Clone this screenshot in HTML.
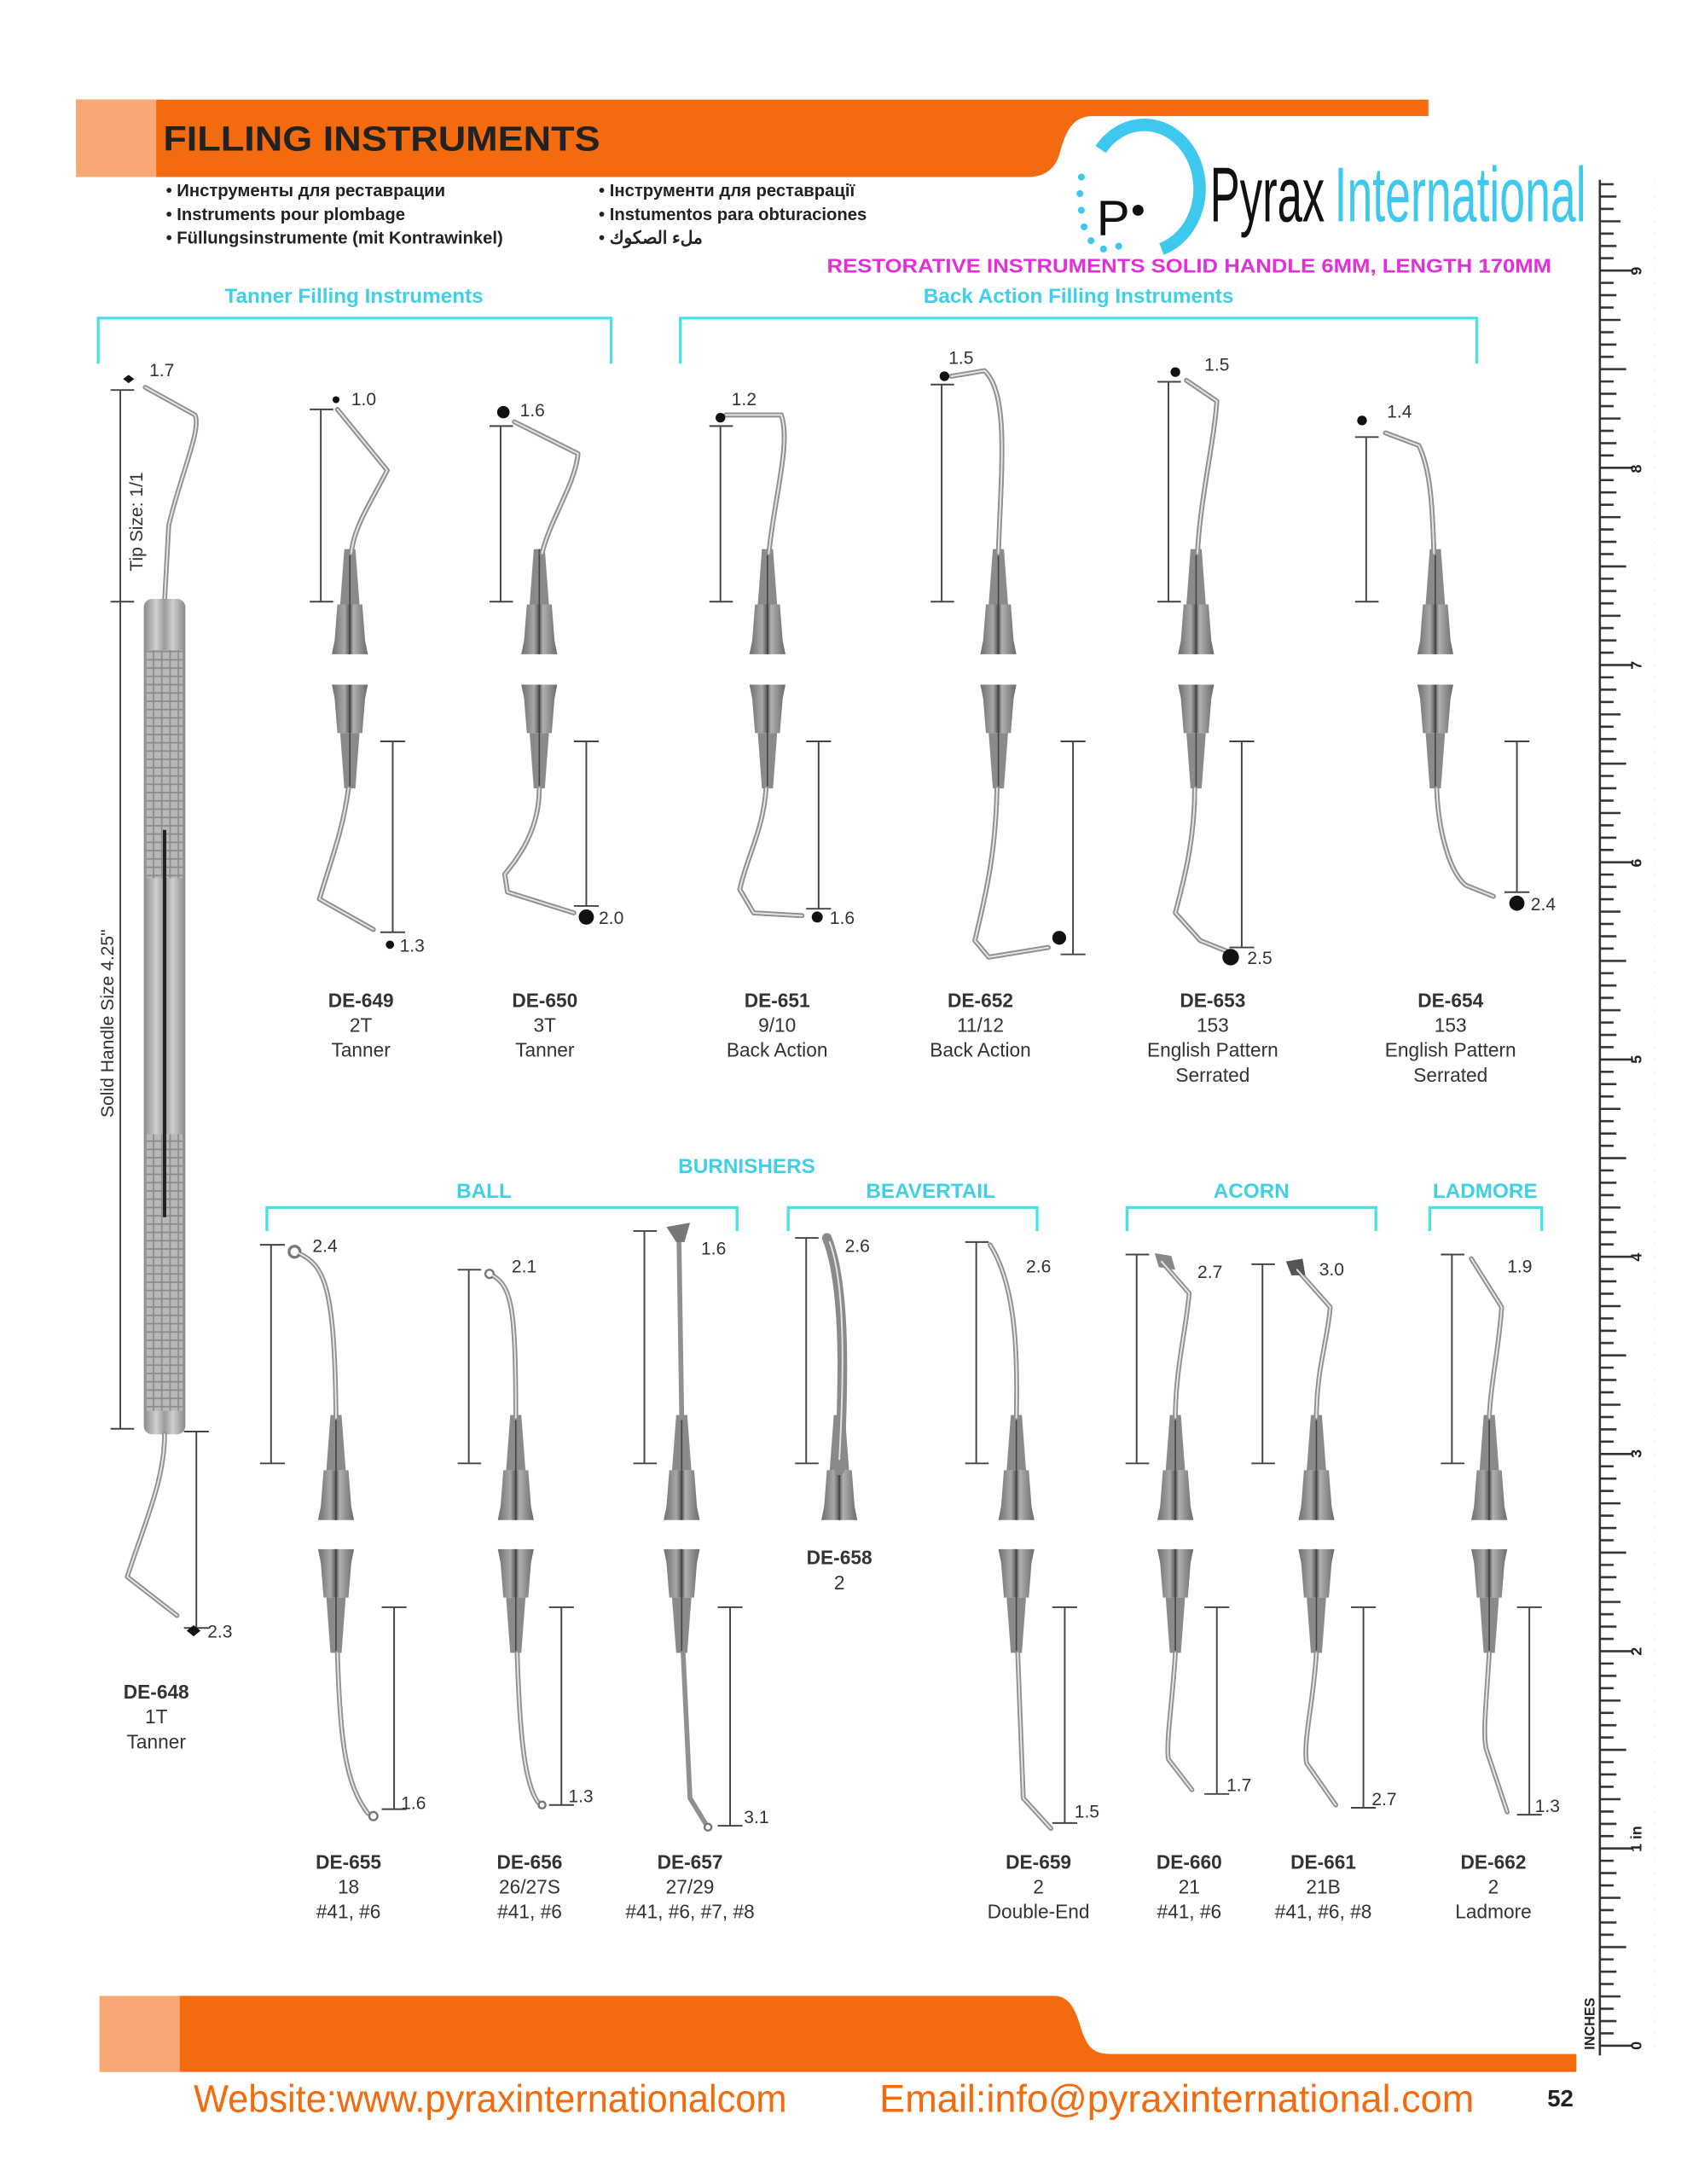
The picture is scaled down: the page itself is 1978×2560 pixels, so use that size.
<!DOCTYPE html>
<html><head><meta charset="utf-8"><style>
html,body{margin:0;padding:0;background:#fff}
svg{display:block}
text{font-family:"Liberation Sans",sans-serif}
.lb{font-size:14px;fill:#333;text-anchor:middle}
.lbb{font-size:14px;fill:#333;text-anchor:middle;font-weight:bold}
.nm{font-size:13px;fill:#333}
.dim{stroke:#444;stroke-width:1.2;fill:none}
.sh{stroke:#909090;stroke-width:3.5;fill:none;stroke-linecap:round;stroke-linejoin:round}
.hl{stroke:#e4e4e4;stroke-width:1.2;fill:none;stroke-linecap:round;stroke-linejoin:round}
.cy{fill:#3fd0e6;font-weight:bold;font-size:15px;text-anchor:middle}
.br{stroke:#46e0e6;stroke-width:2;fill:none}
</style></head><body>
<svg width="1978" height="2560" viewBox="0 0 1220 1579" xmlns="http://www.w3.org/2000/svg">
<defs>
<linearGradient id="cg" x1="0" x2="1" y1="0" y2="0">
<stop offset="0" stop-color="#6e6e6e"/><stop offset="0.35" stop-color="#a8a8a8"/><stop offset="0.5" stop-color="#555"/><stop offset="0.6" stop-color="#b0b0b0"/><stop offset="1" stop-color="#6a6a6a"/></linearGradient>
<linearGradient id="hg" x1="0" x2="1" y1="0" y2="0">
<stop offset="0" stop-color="#8a8a8a"/><stop offset="0.3" stop-color="#d0d0d0"/><stop offset="0.5" stop-color="#9a9a9a"/><stop offset="0.7" stop-color="#cfcfcf"/><stop offset="1" stop-color="#888"/></linearGradient>
<pattern id="kn" patternUnits="userSpaceOnUse" width="6" height="6"><rect width="6" height="6" fill="#b8b8b8"/><path d="M0,3 H6 M3,0 V6" stroke="#8a8a8a" stroke-width="1"/></pattern>
<g id="uc"><polygon points="-9,0 9,0 11,26 13,36 -13,36 -11,26" fill="url(#cg)"/><polygon points="-4,-40 4,-40 7,0 -7,0" fill="#8a8a8a"/><line x1="0" y1="-40" x2="0" y2="36" stroke="#444" stroke-width="1"/></g>
<g id="lc"><polygon points="-13,0 13,0 11,10 9,35 -9,35 -11,10" fill="url(#cg)"/><polygon points="-7,35 7,35 4,75 -4,75" fill="#8a8a8a"/><line x1="0" y1="0" x2="0" y2="75" stroke="#444" stroke-width="1"/></g>
<pattern id="tk" patternUnits="userSpaceOnUse" x="1157" y="52.2" width="40" height="142.6">
<g stroke="#333" stroke-width="1.6">
<line x1="0" y1="0.8" x2="24" y2="0.8"/><line x1="0" y1="9.7" x2="10" y2="9.7"/><line x1="0" y1="18.6" x2="12" y2="18.6"/><line x1="0" y1="27.5" x2="10" y2="27.5"/><line x1="0" y1="36.5" x2="15" y2="36.5"/><line x1="0" y1="45.4" x2="10" y2="45.4"/><line x1="0" y1="54.3" x2="12" y2="54.3"/><line x1="0" y1="63.2" x2="10" y2="63.2"/><line x1="0" y1="72.1" x2="19" y2="72.1"/><line x1="0" y1="81" x2="10" y2="81"/><line x1="0" y1="89.9" x2="12" y2="89.9"/><line x1="0" y1="98.8" x2="10" y2="98.8"/><line x1="0" y1="107.8" x2="15" y2="107.8"/><line x1="0" y1="116.7" x2="10" y2="116.7"/><line x1="0" y1="125.6" x2="12" y2="125.6"/><line x1="0" y1="134.5" x2="10" y2="134.5"/>
</g></pattern>
</defs>

<path d="M55,72 H1033 V84 H790 C774,84 770,98 766,112 C762,124 754,128 742,128 H62 Q55,128 55,118 Z" fill="#f46b0f"/>
<rect x="55" y="72" width="58" height="56" fill="#f8a874"/>
<text x="118" y="109" font-size="25" font-weight="bold" fill="#222" textLength="316" lengthAdjust="spacingAndGlyphs">FILLING INSTRUMENTS</text>
<g font-size="12.5" font-weight="bold" fill="#222">
<text x="120" y="142">• Инструменты для реставрации</text>
<text x="120" y="159">• Instruments pour plombage</text>
<text x="120" y="176">• Füllungsinstrumente (mit Kontrawinkel)</text>
<text x="433" y="142">• Інструменти для реставрації</text>
<text x="433" y="159">• Instumentos para obturaciones</text>
<text x="433" y="176">• ملء الصكوك</text>
</g>
<path d="M796,108 A40,46 0 1 1 840,180" stroke="#3ec8ee" stroke-width="9" fill="none"/>
<g fill="#3ec8ee"><circle cx="782" cy="128" r="2.5"/><circle cx="781" cy="140" r="2.5"/><circle cx="782" cy="152" r="2.5"/><circle cx="784" cy="164" r="2.5"/><circle cx="789" cy="174" r="2.5"/><circle cx="798" cy="180" r="2.5"/><circle cx="809" cy="178" r="2.5"/></g>
<text x="793" y="170" font-size="36" fill="#111">P</text><circle cx="823" cy="152" r="4" fill="#111"/>
<text x="875" y="160" font-size="56" fill="#111" font-family="'Liberation Sans Narrow','Liberation Sans',sans-serif" textLength="83" lengthAdjust="spacingAndGlyphs">Pyrax</text>
<text x="965" y="160" font-size="56" fill="#3ec8ee" font-family="'Liberation Sans Narrow','Liberation Sans',sans-serif" textLength="182" lengthAdjust="spacingAndGlyphs">International</text>
<text x="598" y="197" font-size="14.5" font-weight="bold" fill="#e32fd8" textLength="524" lengthAdjust="spacingAndGlyphs">RESTORATIVE INSTRUMENTS SOLID HANDLE 6MM, LENGTH 170MM</text>

<rect x="1157" y="130" width="40" height="1356" fill="url(#tk)"/>
<line x1="1157" y1="130" x2="1157" y2="1486" stroke="#333" stroke-width="1.6"/>
<g font-size="11" fill="#222" font-weight="bold">
<text transform="translate(1187,199) rotate(-90)">9</text><text transform="translate(1187,342) rotate(-90)">8</text><text transform="translate(1187,484) rotate(-90)">7</text><text transform="translate(1187,627) rotate(-90)">6</text><text transform="translate(1187,769) rotate(-90)">5</text><text transform="translate(1187,912) rotate(-90)">4</text><text transform="translate(1187,1054) rotate(-90)">3</text><text transform="translate(1187,1197) rotate(-90)">2</text><text transform="translate(1187,1339) rotate(-90)">1 in</text><text transform="translate(1187,1482) rotate(-90)">0</text>
<text transform="translate(1153,1482) rotate(-90)" font-size="10">INCHES</text></g>

<text x="256" y="219" class="cy" font-size="14">Tanner Filling Instruments</text>
<path d="M71,263 V230 H442 V263" class="br"/>
<text x="780" y="219" class="cy" font-size="14">Back Action Filling Instruments</text>
<path d="M492,263 V230 H1068 V263" class="br"/>

<path d="M105,280 L141,300 C146,310 130,345 122,380 L119,435" class="sh"/><path d="M105,280 L141,300 C146,310 130,345 122,380 L119,435" class="hl"/>
<rect x="104" y="433" width="30" height="604" rx="6" fill="url(#hg)"/>
<rect x="106" y="470" width="26" height="165" fill="url(#kn)"/><rect x="106" y="820" width="26" height="200" fill="url(#kn)"/>
<line x1="119" y1="600" x2="119" y2="880" stroke="#222" stroke-width="2.5"/>
<path d="M119,1037 C119,1070 105,1100 92,1140 L128,1168" class="sh"/><path d="M119,1037 C119,1070 105,1100 92,1140 L128,1168" class="hl"/>
<path d="M87,282 V1033 M80,282 H97 M80,435 H97 M80,1033 H97" class="dim"/>
<path d="M142,1035 V1177 M133,1035 H151 M133,1177 H151" class="dim"/>
<polygon points="89,274 93,271 97,274 93,277" fill="#111"/><text x="108" y="272" class="nm">1.7</text>
<polygon points="135,1179 140,1175 145,1179 140,1183" fill="#111"/><text x="150" y="1184" class="nm">2.3</text>
<text class="nm" font-size="11" transform="translate(103,413) rotate(-90)">Tip Size: 1/1</text>
<text class="nm" font-size="11" transform="translate(82,808) rotate(-90)">Solid Handle Size 4.25"</text>
<text x="113" y="1228" class="lbb">DE-648</text><text x="113" y="1246" class="lb">1T</text><text x="113" y="1264" class="lb">Tanner</text>

<use href="#uc" x="253" y="437"/><use href="#uc" x="390" y="437"/><use href="#uc" x="555" y="437"/><use href="#uc" x="722" y="437"/><use href="#uc" x="865" y="437"/><use href="#uc" x="1038" y="437"/>
<use href="#lc" x="253" y="495"/><use href="#lc" x="390" y="495"/><use href="#lc" x="555" y="495"/><use href="#lc" x="722" y="495"/><use href="#lc" x="865" y="495"/><use href="#lc" x="1038" y="495"/>
<g id="r1">
<path d="M244,296 L280,340 C270,360 256,380 254,400" class="sh"/>
<path d="M252,570 C248,600 240,620 231,650 L270,672" class="sh"/>
<path d="M372,305 L418,328 C416,350 398,375 392,400" class="sh"/>
<path d="M390,570 C390,600 375,620 365,632 L367,645 L415,660" class="sh"/>
<path d="M525,300 L565,300 C572,320 560,360 556,400" class="sh"/>
<path d="M554,570 C552,600 540,620 535,643 L545,660 L580,662" class="sh"/>
<path d="M688,272 L712,268 C730,285 724,340 722,400" class="sh"/>
<path d="M721,570 C720,620 712,650 705,680 L715,692 L758,685" class="sh"/>
<path d="M858,275 L880,290 C878,320 868,360 866,400" class="sh"/>
<path d="M864,570 C864,610 855,640 850,660 L868,680 L888,688" class="sh"/>
<path d="M1002,313 L1026,322 C1035,340 1036,370 1037,400" class="sh"/>
<path d="M1039,570 C1040,600 1048,630 1060,640 L1080,648" class="sh"/>
</g>
<use href="#r1" style="stroke:#e6e6e6"/>
<g class="hl">
<path d="M244,296 L280,340 C270,360 256,380 254,400"/><path d="M252,570 C248,600 240,620 231,650 L270,672"/><path d="M372,305 L418,328 C416,350 398,375 392,400"/><path d="M390,570 C390,600 375,620 365,632 L367,645 L415,660"/><path d="M525,300 L565,300 C572,320 560,360 556,400"/><path d="M554,570 C552,600 540,620 535,643 L545,660 L580,662"/><path d="M688,272 L712,268 C730,285 724,340 722,400"/><path d="M721,570 C720,620 712,650 705,680 L715,692 L758,685"/><path d="M858,275 L880,290 C878,320 868,360 866,400"/><path d="M864,570 C864,610 855,640 850,660 L868,680 L888,688"/><path d="M1002,313 L1026,322 C1035,340 1036,370 1037,400"/><path d="M1039,570 C1040,600 1048,630 1060,640 L1080,648"/>
</g>
<g class="dim">
<path d="M232,296 V435 M224,296 H241 M224,435 H241 M284,536 V674 M275,536 H293 M275,674 H293"/>
<path d="M362,308 V435 M354,308 H371 M354,435 H371 M424,536 V655 M415,536 H433 M415,655 H433"/>
<path d="M521,308 V435 M513,308 H530 M513,435 H530 M592,536 V657 M583,536 H601 M583,657 H601"/>
<path d="M681,278 V435 M673,278 H690 M673,435 H690 M776,536 V690 M767,536 H785 M767,690 H785"/>
<path d="M845,276 V435 M837,276 H854 M837,435 H854 M898,536 V685 M889,536 H907 M889,685 H907"/>
<path d="M988,316 V435 M980,316 H997 M980,435 H997 M1097,536 V645 M1088,536 H1106 M1088,645 H1106"/>
</g>
<g fill="#111"><circle cx="243" cy="289" r="2.5"/><circle cx="282" cy="683" r="3"/><circle cx="364" cy="298" r="4.5"/><circle cx="424" cy="663" r="5.5"/><circle cx="521" cy="302" r="3.5"/><circle cx="591" cy="663" r="4"/><circle cx="683" cy="272" r="3.5"/><circle cx="766" cy="678" r="5"/><circle cx="850" cy="269" r="3.5"/><circle cx="890" cy="692" r="6"/><circle cx="985" cy="304" r="3.5"/><circle cx="1097" cy="653" r="5.5"/></g>
<g class="nm" font-size="13.5"><text x="254" y="293">1.0</text><text x="289" y="688">1.3</text><text x="376" y="301">1.6</text><text x="433" y="668">2.0</text><text x="529" y="293">1.2</text><text x="600" y="668">1.6</text><text x="686" y="263">1.5</text><text x="871" y="268">1.5</text><text x="902" y="697">2.5</text><text x="1003" y="302">1.4</text><text x="1107" y="658">2.4</text></g>
<g><text x="261" y="728" class="lbb">DE-649</text><text x="261" y="746" class="lb">2T</text><text x="261" y="764" class="lb">Tanner</text>
<text x="394" y="728" class="lbb">DE-650</text><text x="394" y="746" class="lb">3T</text><text x="394" y="764" class="lb">Tanner</text>
<text x="562" y="728" class="lbb">DE-651</text><text x="562" y="746" class="lb">9/10</text><text x="562" y="764" class="lb">Back Action</text>
<text x="709" y="728" class="lbb">DE-652</text><text x="709" y="746" class="lb">11/12</text><text x="709" y="764" class="lb">Back Action</text>
<text x="877" y="728" class="lbb">DE-653</text><text x="877" y="746" class="lb">153</text><text x="877" y="764" class="lb">English Pattern</text><text x="877" y="782" class="lb">Serrated</text>
<text x="1049" y="728" class="lbb">DE-654</text><text x="1049" y="746" class="lb">153</text><text x="1049" y="764" class="lb">English Pattern</text><text x="1049" y="782" class="lb">Serrated</text></g>

<text x="540" y="848" class="cy" font-size="15.5">BURNISHERS</text>
<text x="350" y="866" class="cy" font-size="14">BALL</text><path d="M193,890 V873 H533 V890" class="br"/>
<text x="673" y="866" class="cy" font-size="14">BEAVERTAIL</text><path d="M570,890 V873 H750 V890" class="br"/>
<text x="905" y="866" class="cy" font-size="14">ACORN</text><path d="M815,890 V873 H995 V890" class="br"/>
<text x="1074" y="866" class="cy" font-size="14">LADMORE</text><path d="M1034,890 V873 H1115 V890" class="br"/>

<use href="#uc" x="243" y="1063"/><use href="#uc" x="373" y="1063"/><use href="#uc" x="493" y="1063"/><use href="#uc" x="607" y="1063"/><use href="#uc" x="735" y="1063"/><use href="#uc" x="850" y="1063"/><use href="#uc" x="952" y="1063"/><use href="#uc" x="1077" y="1063"/>
<use href="#lc" x="243" y="1120"/><use href="#lc" x="373" y="1120"/><use href="#lc" x="493" y="1120"/><use href="#lc" x="735" y="1120"/><use href="#lc" x="850" y="1120"/><use href="#lc" x="952" y="1120"/><use href="#lc" x="1077" y="1120"/>
<g>
<path d="M216,906 C235,915 242,930 243,1025" class="sh"/><circle cx="213" cy="905" r="4" fill="#fff" stroke="#777" stroke-width="2"/>
<path d="M244,1195 C246,1260 250,1290 266,1311" class="sh"/><circle cx="270" cy="1313" r="3" fill="#fff" stroke="#777" stroke-width="1.5"/>
<path d="M356,922 C370,930 373,945 373,1025" class="sh"/><circle cx="354" cy="921" r="3" fill="#fff" stroke="#777" stroke-width="1.5"/>
<path d="M374,1195 C376,1260 380,1290 389,1303" class="sh"/><circle cx="392" cy="1305" r="2.5" fill="#fff" stroke="#777" stroke-width="1.5"/>
<path d="M491,895 L493,1025" class="sh"/><polygon points="482,887 499,884 495,898 489,898" fill="#777"/>
<path d="M494,1195 L499,1300 L510,1318" class="sh"/><circle cx="512" cy="1321" r="2.5" fill="#fff" stroke="#777" stroke-width="1.5"/>
<path d="M598,895 C612,930 610,1000 607,1063" stroke="#8a8a8a" stroke-width="7" fill="none" stroke-linecap="round"/>
<path d="M716,900 C735,930 736,980 735,1025" class="sh"/>
<path d="M736,1195 L740,1300 L760,1322" class="sh"/>
<path d="M840,912 L860,935 C858,960 850,990 850,1025" class="sh"/><polygon points="835,906 847,908 850,918 838,916" fill="#888"/>
<path d="M850,1195 C848,1230 843,1260 845,1272 L862,1294" class="sh"/>
<path d="M938,918 L962,945 C960,970 952,990 952,1025" class="sh"/><polygon points="930,912 942,910 944,922 934,922" fill="#555"/>
<path d="M952,1195 C950,1230 942,1260 945,1275 L966,1305" class="sh"/>
<path d="M1064,910 L1086,945 C1084,975 1078,1000 1077,1025" class="sh"/>
<path d="M1077,1195 C1075,1230 1072,1255 1075,1265 L1090,1310" class="sh"/>
</g>
<g class="hl">
<path d="M216,906 C235,915 242,930 243,1025"/><path d="M244,1195 C246,1260 250,1290 266,1311"/><path d="M356,922 C370,930 373,945 373,1025"/><path d="M374,1195 C376,1260 380,1290 389,1303"/><path d="M716,900 C735,930 736,980 735,1025"/><path d="M736,1195 L740,1300 L760,1322"/><path d="M840,912 L860,935 C858,960 850,990 850,1025"/><path d="M850,1195 C848,1230 843,1260 845,1272 L862,1294"/><path d="M938,918 L962,945 C960,970 952,990 952,1025"/><path d="M952,1195 C950,1230 942,1260 945,1275 L966,1305"/><path d="M1064,910 L1086,945 C1084,975 1078,1000 1077,1025"/><path d="M1077,1195 C1075,1230 1072,1255 1075,1265 L1090,1310"/><path d="M600,898 C612,930 610,1000 607,1055"/>
</g>
<g class="dim">
<path d="M196,900 V1058 M188,900 H206 M188,1058 H206 M285,1162 V1308 M276,1162 H294 M276,1308 H294"/>
<path d="M339,918 V1058 M331,918 H348 M331,1058 H348 M406,1162 V1305 M397,1162 H415 M397,1305 H415"/>
<path d="M466,890 V1058 M458,890 H475 M458,1058 H475 M528,1162 V1320 M519,1162 H537 M519,1320 H537"/>
<path d="M583,895 V1058 M575,895 H592 M575,1058 H592"/>
<path d="M706,898 V1058 M698,898 H715 M698,1058 H715 M770,1162 V1318 M761,1162 H779 M761,1318 H779"/>
<path d="M822,907 V1058 M814,907 H831 M814,1058 H831 M880,1162 V1297 M871,1162 H889 M871,1297 H889"/>
<path d="M913,914 V1058 M905,914 H922 M905,1058 H922 M986,1162 V1307 M977,1162 H995 M977,1307 H995"/>
<path d="M1050,907 V1058 M1042,907 H1059 M1042,1058 H1059 M1106,1162 V1312 M1097,1162 H1115 M1097,1312 H1115"/>
</g>
<g class="nm" font-size="13.5"><text x="226" y="905">2.4</text><text x="290" y="1308">1.6</text><text x="370" y="920">2.1</text><text x="411" y="1303">1.3</text><text x="507" y="907">1.6</text><text x="538" y="1318">3.1</text><text x="611" y="905">2.6</text><text x="742" y="920">2.6</text><text x="777" y="1314">1.5</text><text x="866" y="924">2.7</text><text x="887" y="1295">1.7</text><text x="954" y="922">3.0</text><text x="992" y="1305">2.7</text><text x="1090" y="920">1.9</text><text x="1110" y="1310">1.3</text></g>
<g><text x="252" y="1351" class="lbb">DE-655</text><text x="252" y="1369" class="lb">18</text><text x="252" y="1387" class="lb">#41, #6</text>
<text x="383" y="1351" class="lbb">DE-656</text><text x="383" y="1369" class="lb">26/27S</text><text x="383" y="1387" class="lb">#41, #6</text>
<text x="499" y="1351" class="lbb">DE-657</text><text x="499" y="1369" class="lb">27/29</text><text x="499" y="1387" class="lb">#41, #6, #7, #8</text>
<text x="607" y="1131" class="lbb">DE-658</text><text x="607" y="1149" class="lb">2</text>
<text x="751" y="1351" class="lbb">DE-659</text><text x="751" y="1369" class="lb">2</text><text x="751" y="1387" class="lb">Double-End</text>
<text x="860" y="1351" class="lbb">DE-660</text><text x="860" y="1369" class="lb">21</text><text x="860" y="1387" class="lb">#41, #6</text>
<text x="957" y="1351" class="lbb">DE-661</text><text x="957" y="1369" class="lb">21B</text><text x="957" y="1387" class="lb">#41, #6, #8</text>
<text x="1080" y="1351" class="lbb">DE-662</text><text x="1080" y="1369" class="lb">2</text><text x="1080" y="1387" class="lb">Ladmore</text></g>

<path d="M72,1443 H762 C776,1443 779,1458 783,1470 C787,1481 792,1485 803,1485 H1140 V1498 H72 Z" fill="#f46b0f"/>
<rect x="72" y="1443" width="58" height="55" fill="#f8a874"/>
<g font-family="'Liberation Sans Narrow','Liberation Sans',sans-serif" font-size="28" fill="#f46b0f">
<text x="140" y="1527" textLength="429" lengthAdjust="spacingAndGlyphs">Website:www.pyraxinternationalcom</text>
<text x="636" y="1527" textLength="430" lengthAdjust="spacingAndGlyphs">Email:info@pyraxinternational.com</text></g>
<text x="1119" y="1523" font-size="17" font-weight="bold" fill="#222">52</text>
</svg>
</body></html>
